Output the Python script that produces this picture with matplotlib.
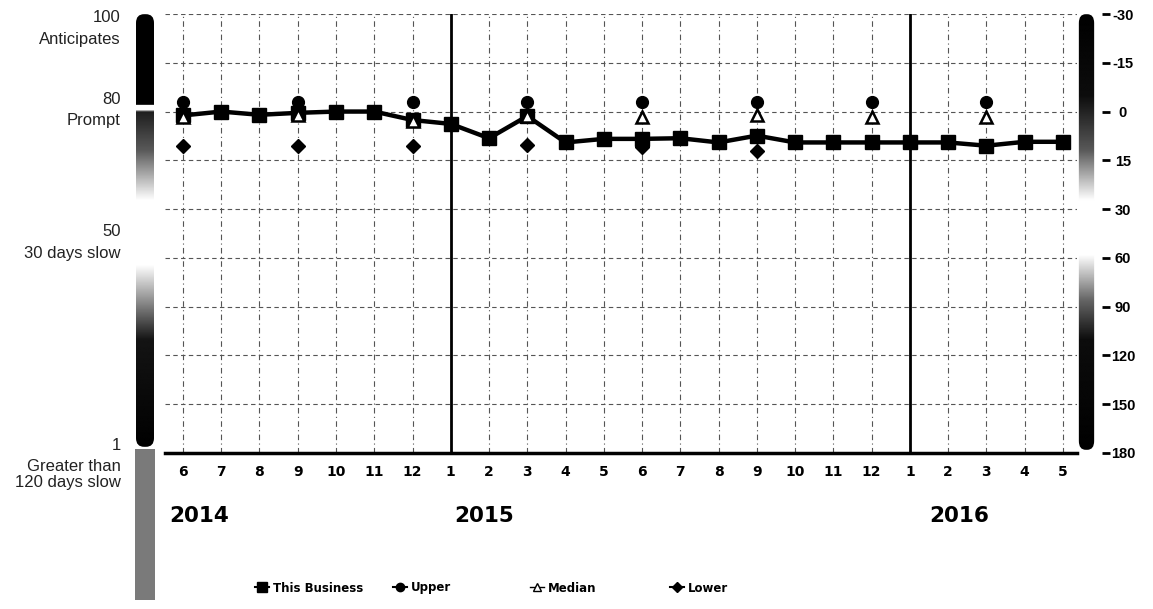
import numpy as np
import matplotlib.pyplot as plt
from matplotlib import transforms
from matplotlib.patches import FancyBboxPatch
from matplotlib.lines import Line2D

# month labels along the x axis (Jun 2014 .. May 2016)
months = [6, 7, 8, 9, 10, 11, 12, 1, 2, 3, 4, 5, 6, 7, 8, 9, 10, 11, 12, 1, 2, 3, 4, 5]
years = ['2014', '2015', '2016']
year_pos = [-0.35, 7.1, 19.5]
year_breaks = [7, 19]

nan = np.nan
# values in days beyond terms (right hand scale)
this_business = [1.2, 0.0, 1.0, 0.4, 0.0, 0.0, 2.6, 3.8, 8.2, 1.4, 9.5, 8.4,
                 8.4, 8.2, 9.5, 7.4, 9.5, 9.5, 9.5, 9.5, 9.5, 10.5, 9.3, 9.3]
upper = [-3, nan, nan, -3, nan, nan, -3, nan, nan, -3, nan, nan,
         -3, nan, nan, -3, nan, nan, -3, nan, nan, -3, nan, nan]
median = [1.6, nan, nan, 1.2, nan, nan, 2.8, nan, nan, 1.4, nan, nan,
          1.6, nan, nan, 1.2, nan, nan, 1.6, nan, nan, 1.6, nan, nan]
lower = [10.5, nan, nan, 10.5, nan, nan, 10.5, nan, nan, 10.3, nan, nan,
         10.9, nan, nan, 12.0, nan, nan, 9.5, nan, nan, 10.5, nan, nan]

day_ticks = [-30, -15, 0, 15, 30, 60, 90, 120, 150, 180]
paydex_vals = ['100', '80', '50', '1']
paydex_text = ['Anticipates', 'Prompt', '30 days slow', 'Greater than\n120 days slow']
paydex_ypx = [18, 99, 232, 445]

W, H = 1153, 609
fig = plt.figure(figsize=(W / 100, H / 100), dpi=100)


def fx(px):
    return px / W


def fy(px):
    return 1 - px / H


ax = fig.add_axes([fx(165), fy(453), fx(1077) - fx(165), fy(14) - fy(453)])

rows = np.arange(len(day_ticks))


def fwd(d):
    return np.interp(d, day_ticks, rows)


def inv(r):
    return np.interp(r, rows, day_ticks)


ax.set_yscale('function', functions=(fwd, inv))
x = np.arange(len(months))

ax.set_xlim(-0.47, 23.37)
ax.set_ylim(180, -30)

# grid
ax.set_yticks(day_ticks)
ax.set_xticks(x)
ax.grid(True, axis='y', color='#555555', lw=0.8, ls=(0, (4, 3)))
ax.grid(True, axis='x', color='#555555', lw=0.8, ls=(0, (5, 3, 1, 3)))
for b in year_breaks:
    ax.axvline(b, color='black', lw=2, zorder=2)

for s in ['top', 'left', 'right']:
    ax.spines[s].set_visible(False)
ax.spines['bottom'].set_linewidth(2.5)

ax.plot(x, this_business, color='black', lw=3.2, marker='s', ms=10, zorder=3)
ax.plot(x, upper, ls='none', marker='o', color='black', ms=8.5, zorder=4)
ax.plot(x, median, ls='none', marker='^', mfc='white', mec='black', mew=1.8, ms=8, zorder=5)
ax.plot(x, lower, ls='none', marker='D', color='black', ms=7.5, zorder=4)

# x tick labels
ax.set_xticklabels([str(m) for m in months], fontsize=10, fontweight='bold')
ax.tick_params(axis='x', length=0, pad=9)

# right scale labels
ax.yaxis.tick_right()
ax.set_yticklabels([str(t) for t in day_ticks], fontsize=10.5, fontweight='bold',
                   family=['Liberation Sans Narrow', 'Liberation Sans'])
ax.tick_params(axis='y', length=0, pad=33)
for t in ax.get_yticklabels():
    t.set_ha('center')
blend = transforms.blended_transform_factory(ax.transAxes, ax.transData)
ax.plot([1 + 29 / 912] * len(day_ticks), day_ticks, ls='none', marker='_', ms=6,
        mew=2, color='black', transform=blend, clip_on=False)

ytr = transforms.blended_transform_factory(ax.transData, fig.transFigure)
for name, px in zip(years, year_pos):
    ax.text(px, fy(516), name, transform=ytr, fontsize=15.5, fontweight='bold',
            va='center', ha='left')

# left paydex labels
for v, t, ypx in zip(paydex_vals, paydex_text, paydex_ypx):
    fig.text(fx(121), fy(ypx), v, ha='right', va='center', fontsize=12,
             family='Liberation Sans', color='#222222')
    fig.text(fx(121), fy(ypx + 14), t, ha='right', va='top', fontsize=12,
             family='Liberation Sans', color='#222222', linespacing=1.05)


# gradient bars
def bar(x0, x1, y0, y1, stops, grays):
    bax = fig.add_axes([fx(x0), fy(y1), fx(x1) - fx(x0), fy(y0) - fy(y1)])
    bax.set_axis_off()
    ys = np.linspace(y0, y1, 400)
    g = np.interp(ys, stops, grays)[:, None]
    im = bax.imshow(g, cmap='gray', vmin=0, vmax=1, aspect='auto',
                    extent=[0, 1, 1, 0], interpolation='bilinear')
    clip = FancyBboxPatch((0.05, 0.005), 0.9, 0.99, boxstyle='round,pad=0,rounding_size=0.4',
                          transform=bax.transAxes, mutation_aspect=0.05, fc='none', ec='none')
    bax.add_patch(clip)
    im.set_clip_path(clip)
    bax.set_xlim(0, 1)
    bax.set_ylim(1, 0)


fig.patches.append(plt.Rectangle((fx(135), fy(600)), fx(155) - fx(135), fy(449) - fy(600),
                                 transform=fig.transFigure, fc='#7a7a7a', ec='none'))
bar(135, 155, 12, 449, [12, 104, 105, 110, 111, 150, 200, 265, 340, 449],
    [0, 0, 1, 1, 0.12, 0.35, 1, 1, 0.08, 0])
bar(1078, 1095, 12, 452, [12, 95, 150, 200, 255, 300, 340, 452],
    [0, 0.05, 0.35, 1, 1, 0.4, 0.05, 0])

# legend, one entry per slot
handles = [
    Line2D([], [], color='black', lw=1.5, marker='s', ms=7),
    Line2D([], [], color='black', lw=1.5, marker='o', ms=6),
    Line2D([], [], color='black', lw=1, marker='^', mfc='white', ms=6),
    Line2D([], [], color='black', lw=1.5, marker='D', ms=5),
]
labels = ['This Business', 'Upper', 'Median', 'Lower']
slots = [255, 393, 530, 670]
for h, lab, sx in zip(handles, labels, slots):
    fig.legend([h], [lab], loc='center left', bbox_to_anchor=(fx(sx), fy(588)),
               frameon=False, prop={'weight': 'bold', 'size': 8.5}, handlelength=1.2,
               handletextpad=0.3, borderpad=0, borderaxespad=0)

fig.savefig('out.png', dpi=100)
